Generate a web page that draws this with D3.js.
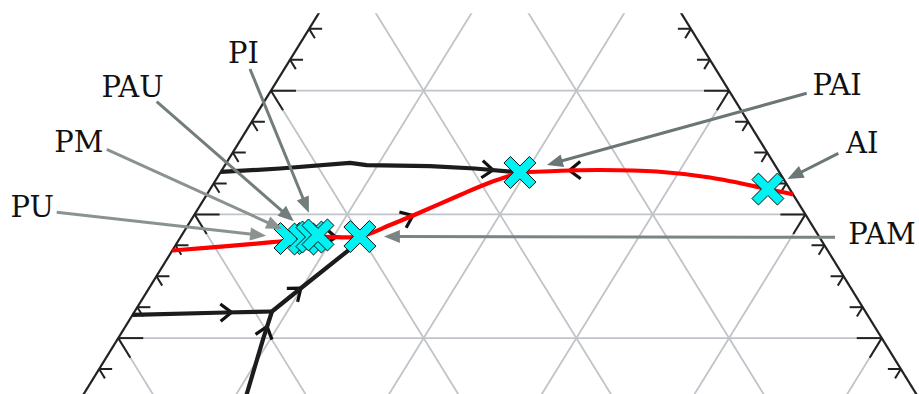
<!DOCTYPE html>
<html><head><meta charset="utf-8">
<script src="https://cdn.jsdelivr.net/npm/d3@7"></script>
<style>body{margin:0;background:#fff}svg{display:block}</style>
</head><body>
<svg id="c" width="919" height="394"></svg>
<script>
// ---- data: ternary compositions [top, left, right] ----
const redFromLeft = [
  [0.5708,0.4292,0.0000],[0.5745,0.3895,0.0360],[0.5779,0.3573,0.0648],
  [0.5817,0.3271,0.0912],[0.5821,0.3007,0.1172],[0.5914,0.2763,0.1323],
  [0.6003,0.2545,0.1452],[0.6157,0.2183,0.1660],[0.6258,0.1937,0.1805],
  [0.6339,0.1700,0.1961]];
const redFromRight = [
  [0.6161,0.0000,0.3839],[0.6205,0.0143,0.3652],[0.6298,0.0476,0.3226],
  [0.6347,0.0801,0.2852],[0.6359,0.1166,0.2475],[0.6355,0.1365,0.2280],
  [0.6339,0.1700,0.1961]];
const blackUpper = [
  [0.6343,0.3657,0.0000],[0.6371,0.3255,0.0374],[0.6416,0.2774,0.0810],
  [0.6399,0.2674,0.0927],[0.6391,0.2263,0.1346],[0.6371,0.1979,0.1650],
  [0.6339,0.1700,0.1961]];
const blackLeft = [[0.5187,0.4813,0.0000],[0.5207,0.4191,0.0602],[0.5215,0.3886,0.0899]];
const blackToPAM = [[0.5215,0.3886,0.0899],[0.5397,0.3612,0.0991],[0.5720,0.3122,0.1158],[0.5821,0.3007,0.1172]];
const blackBottom = [[0.4500,0.4420,0.1080],[0.4998,0.4051,0.0951],[0.5215,0.3886,0.0899]];

const pointNames = ["PU","PM","PAU","PI","PAM","PAI","AI"];
const pointComps = [
  [0.5805,0.3473,0.0722],[0.5801,0.3383,0.0816],[0.5817,0.3323,0.0860],
  [0.5834,0.3275,0.0891],[0.5821,0.3007,0.1172],[0.6339,0.1700,0.1961],
  [0.6205,0.0143,0.3652]];

// arrow positions along each path (fraction of length); direction along path
const arrowSpecs = [
  {path:"blackUpper", at:0.91},
  {path:"blackLeft", at:0.71},
  {path:"blackToPAM", at:0.32},
  {path:"blackBottom", at:0.83},
  {path:"redFromLeft", at:0.455},
  {path:"redFromLeft", at:0.68},
  {path:"redFromRight", at:0.82}
];
const gridSteps = d3.range(1,10).map(i=>i/10);
const tickSteps = d3.range(1,40).map(i=>i/40);

// ---- layout ----
const svg = d3.select("#c");
const x = d3.scaleLinear().domain([0,1]).range([-263.5,1263.5]);
const y = d3.scaleLinear().domain([0,1]).range([956.6,-280.4]);
const P = ([t,l,r]) => [x(r + t/2), y(t)];

svg.append("defs").append("clipPath").attr("id","clipTop")
  .append("rect").attr("x",0).attr("y",13.3).attr("width",919).attr("height",400);

const plot = svg.append("g").attr("clip-path","url(#clipTop)");
const gridColor = "#c0c3c9";
// grid lines
const gridSegs = [];
gridSteps.forEach(v=>{
  gridSegs.push([[v,1-v,0],[v,0,1-v]]);       // constant top
  gridSegs.push([[0,1-v,v],[1-v,0,v]]);       // constant right
  gridSegs.push([[0,v,1-v],[1-v,v,0]]);       // constant left
});
plot.append("g").selectAll("line").data(gridSegs).join("line")
  .attr("x1",d=>P(d[0])[0]).attr("y1",d=>P(d[0])[1])
  .attr("x2",d=>P(d[1])[0]).attr("y2",d=>P(d[1])[1])
  .attr("stroke",gridColor).attr("stroke-width",1.8);

// triangle edges
const edgeColor = "#222";
const edges = [[[0,1,0],[1,0,0]],[[0,0,1],[1,0,0]],[[0,1,0],[0,0,1]]];
plot.append("g").selectAll("line").data(edges).join("line")
  .attr("x1",d=>P(d[0])[0]).attr("y1",d=>P(d[0])[1])
  .attr("x2",d=>P(d[1])[0]).attr("y2",d=>P(d[1])[1])
  .attr("stroke",edgeColor).attr("stroke-width",2.2);

// ticks
const sx = x(1)-x(0.5), sy = y(0)-y(1), sn = Math.hypot(sx,sy);
const dR = [sx/sn, sy/sn]; // down-right direction
const dL = [-sx/sn, sy/sn];
const ticks = [];
tickSteps.forEach(t=>{
  const major = Math.abs(Math.round(t*10)-t*10)<1e-6;
  const a = major?25:13, b = major?23:11;
  const pl = P([t,1-t,0]);
  ticks.push([pl,[pl[0]+a,pl[1]]]);
  ticks.push([pl,[pl[0]+dR[0]*b,pl[1]+dR[1]*b]]);
  const pr = P([t,0,1-t]);
  ticks.push([pr,[pr[0]-a,pr[1]]]);
  ticks.push([pr,[pr[0]+dL[0]*b,pr[1]+dL[1]*b]]);
});
plot.append("g").selectAll("line").data(ticks).join("line")
  .attr("x1",d=>d[0][0]).attr("y1",d=>d[0][1])
  .attr("x2",d=>d[1][0]).attr("y2",d=>d[1][1])
  .attr("stroke",edgeColor).attr("stroke-width",2).attr("stroke-linecap","butt");

// ---- curves ----
const paths = {redFromLeft, redFromRight, blackUpper, blackLeft, blackToPAM, blackBottom};
const lineLin = d3.line().x(d=>P(d)[0]).y(d=>P(d)[1]);
const lineSmooth = d3.line().x(d=>P(d)[0]).y(d=>P(d)[1]).curve(d3.curveCatmullRom.alpha(0.5));
const nodes = {};
const gLines = svg.append("g");
const gArrows = svg.append("g");
[["blackUpper","#1c1c1c"],["blackLeft","#1c1c1c"],["blackToPAM","#1c1c1c"],["blackBottom","#1c1c1c"],
 ["redFromLeft","#ff0000"],["redFromRight","#ff0000"]].forEach(([k,c])=>{
  const isRed = k.startsWith("red");
  nodes[k] = gLines.append("path").attr("d",(isRed?lineSmooth:lineLin)(paths[k]))
    .attr("fill","none").attr("stroke",c).attr("stroke-width",4.2)
    .attr("stroke-linejoin","round").node();
});
// chevrons along paths
arrowSpecs.forEach(s=>{
  const n = nodes[s.path], L = n.getTotalLength();
  const p = n.getPointAtLength(L*s.at), q = n.getPointAtLength(L*s.at-3);
  const ang = Math.atan2(p.y-q.y,p.x-q.x), wl = 14, ha = 38*Math.PI/180;
  const w1 = [p.x - wl*Math.cos(ang-ha), p.y - wl*Math.sin(ang-ha)];
  const w2 = [p.x - wl*Math.cos(ang+ha), p.y - wl*Math.sin(ang+ha)];
  gArrows.append("path").attr("d",`M${w1}L${p.x},${p.y}L${w2}`)
    .attr("fill","none").attr("stroke","#111").attr("stroke-width",3.2);
});
gLines.raise();

// ---- markers ----
const Lm=18, wm=4.6;
const plus = [[-wm,-Lm],[wm,-Lm],[wm,-wm],[Lm,-wm],[Lm,wm],[wm,wm],[wm,Lm],[-wm,Lm],[-wm,wm],[-Lm,wm],[-Lm,-wm],[-wm,-wm]];
const c45 = Math.SQRT1_2;
const xShape = "M"+plus.map(([a,b])=>[(a-b)*c45,(a+b)*c45].map(v=>v.toFixed(2)).join(",")).join("L")+"Z";
svg.append("g").selectAll("path").data(pointComps).join("path")
  .attr("d",xShape).attr("transform",d=>`translate(${P(d)})`)
  .attr("fill","#00f2f2").attr("stroke","#111").attr("stroke-width",1);

// ---- annotations ----
const annLayout = {
  PI:  {tx:243.5, ty:62.7, anchor:"middle", sx:250, sy:69,  color:"#737d7d", shrink:24},
  PAU: {tx:132.5, ty:96.7, anchor:"middle", sx:156.7, sy:101.7, color:"#737d7d", shrink:24},
  PM:  {tx:78.8,  ty:151.7, anchor:"middle", sx:106.7, sy:149.3, color:"#8b9292", shrink:24},
  PU:  {tx:32.2,  ty:216.7, anchor:"middle", sx:56.7, sy:212.3, color:"#8b9292", shrink:24},
  PAI: {tx:837.2, ty:95,   anchor:"middle", sx:806.7, sy:93.3, color:"#6b7777", shrink:28},
  AI:  {tx:862.2, ty:153.3, anchor:"middle", sx:838.3, sy:153.3, color:"#6b7777", shrink:22},
  PAM: {tx:848.3, ty:244,  anchor:"start", sx:835, sy:237.3, color:"#7a8484", shrink:24}
};
const gAnn = svg.append("g");
pointNames.forEach((name,i)=>{
  const a = annLayout[name];
  const [mx,my] = P(pointComps[i]);
  const dx = mx-a.sx, dy = my-a.sy, len = Math.hypot(dx,dy);
  const ux = dx/len, uy = dy/len;
  const tip = [mx-ux*a.shrink, my-uy*a.shrink];
  const hl = 16, hw = 6.5;
  const base = [tip[0]-ux*hl, tip[1]-uy*hl];
  gAnn.append("line").attr("x1",a.sx).attr("y1",a.sy).attr("x2",base[0]+ux*2).attr("y2",base[1]+uy*2)
    .attr("stroke",a.color).attr("stroke-width",3);
  gAnn.append("path").attr("d",`M${tip}L${base[0]-uy*hw},${base[1]+ux*hw}L${base[0]+uy*hw},${base[1]-ux*hw}Z`)
    .attr("fill",a.color);
  gAnn.append("text").attr("x",a.tx).attr("y",a.ty).attr("text-anchor",a.anchor)
    .attr("font-family","DejaVu Serif").attr("font-size",29).attr("fill","#111").text(name);
});
</script>
</body></html>
